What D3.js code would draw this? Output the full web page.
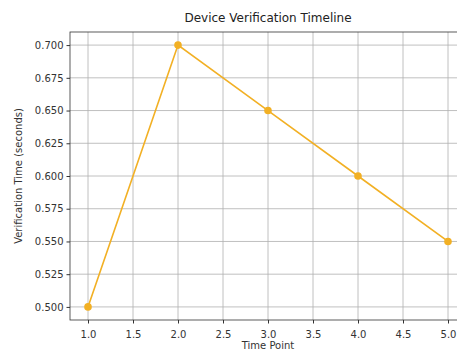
<!DOCTYPE html>
<html><head><meta charset="utf-8">
<script src="https://cdn.jsdelivr.net/npm/d3@7"></script>
<style>body{margin:0;background:#fff;overflow:hidden}svg{display:block;font-family:"DejaVu Sans",sans-serif}</style>
</head><body><svg id="c" width="457" height="352"></svg>
<script>
const timePoints = [1, 2, 3, 4, 5];
const verificationTimes = [0.5, 0.7, 0.65, 0.6, 0.55];
const xTicks = [1.0, 1.5, 2.0, 2.5, 3.0, 3.5, 4.0, 4.5, 5.0];
const yTicks = [0.500, 0.525, 0.550, 0.575, 0.600, 0.625, 0.650, 0.675, 0.700];

const svg = d3.select("#c");
const L = 70, R = 466, T = 32, B = 320;
const x = d3.scaleLinear().domain([0.8, 5.2]).range([L, R]);
const y = d3.scaleLinear().domain([0.49, 0.71]).range([B, T]);
const col = "#F2B024";

// grid
svg.append("g").selectAll("line").data(xTicks).join("line")
  .attr("x1", d => x(d)).attr("x2", d => x(d)).attr("y1", T).attr("y2", B)
  .attr("stroke", "#b0b0b0").attr("stroke-width", 0.8);
svg.append("g").selectAll("line").data(yTicks).join("line")
  .attr("y1", d => y(d)).attr("y2", d => y(d)).attr("x1", L).attr("x2", R)
  .attr("stroke", "#b0b0b0").attr("stroke-width", 0.8);

// axes
const xa = svg.append("g").attr("transform", `translate(0,${B})`)
  .call(d3.axisBottom(x).tickValues(xTicks).tickFormat(d3.format(".1f")).tickSize(3.5).tickSizeOuter(0));
const ya = svg.append("g").attr("transform", `translate(${L},0)`)
  .call(d3.axisLeft(y).tickValues(yTicks).tickFormat(d3.format(".3f")).tickSize(3.5).tickSizeOuter(0));
[xa, ya].forEach(a => {
  a.select(".domain").remove();
  a.selectAll("text").attr("font-size", 10).attr("fill", "#333").attr("font-family", "DejaVu Sans, sans-serif");
  a.selectAll("line").attr("stroke", "#333");
});
xa.selectAll("text").attr("dy", "1.15em");

// frame
svg.append("rect").attr("x", L).attr("y", T).attr("width", R - L).attr("height", B - T)
  .attr("fill", "none").attr("stroke", "#333").attr("stroke-width", 0.8);

// line
const pts = timePoints.map((t, i) => [t, verificationTimes[i]]);
svg.append("path").datum(pts)
  .attr("d", d3.line().x(d => x(d[0])).y(d => y(d[1])))
  .attr("fill", "none").attr("stroke", col).attr("stroke-width", 1.6);
svg.append("g").selectAll("circle").data(pts).join("circle")
  .attr("cx", d => x(d[0])).attr("cy", d => y(d[1])).attr("r", 3.8).attr("fill", col);

// texts
svg.append("text").attr("x", (L + R) / 2).attr("y", 22).attr("text-anchor", "middle")
  .attr("font-size", 12).attr("fill", "#222").text("Device Verification Timeline");
svg.append("text").attr("x", (L + R) / 2).attr("y", 349).attr("text-anchor", "middle")
  .attr("font-size", 10).attr("fill", "#333").text("Time Point");
svg.append("text").attr("transform", `translate(22,${(T + B) / 2}) rotate(-90)`).attr("text-anchor", "middle")
  .attr("font-size", 10).attr("fill", "#333").text("Verification Time (seconds)");
</script></body></html>
